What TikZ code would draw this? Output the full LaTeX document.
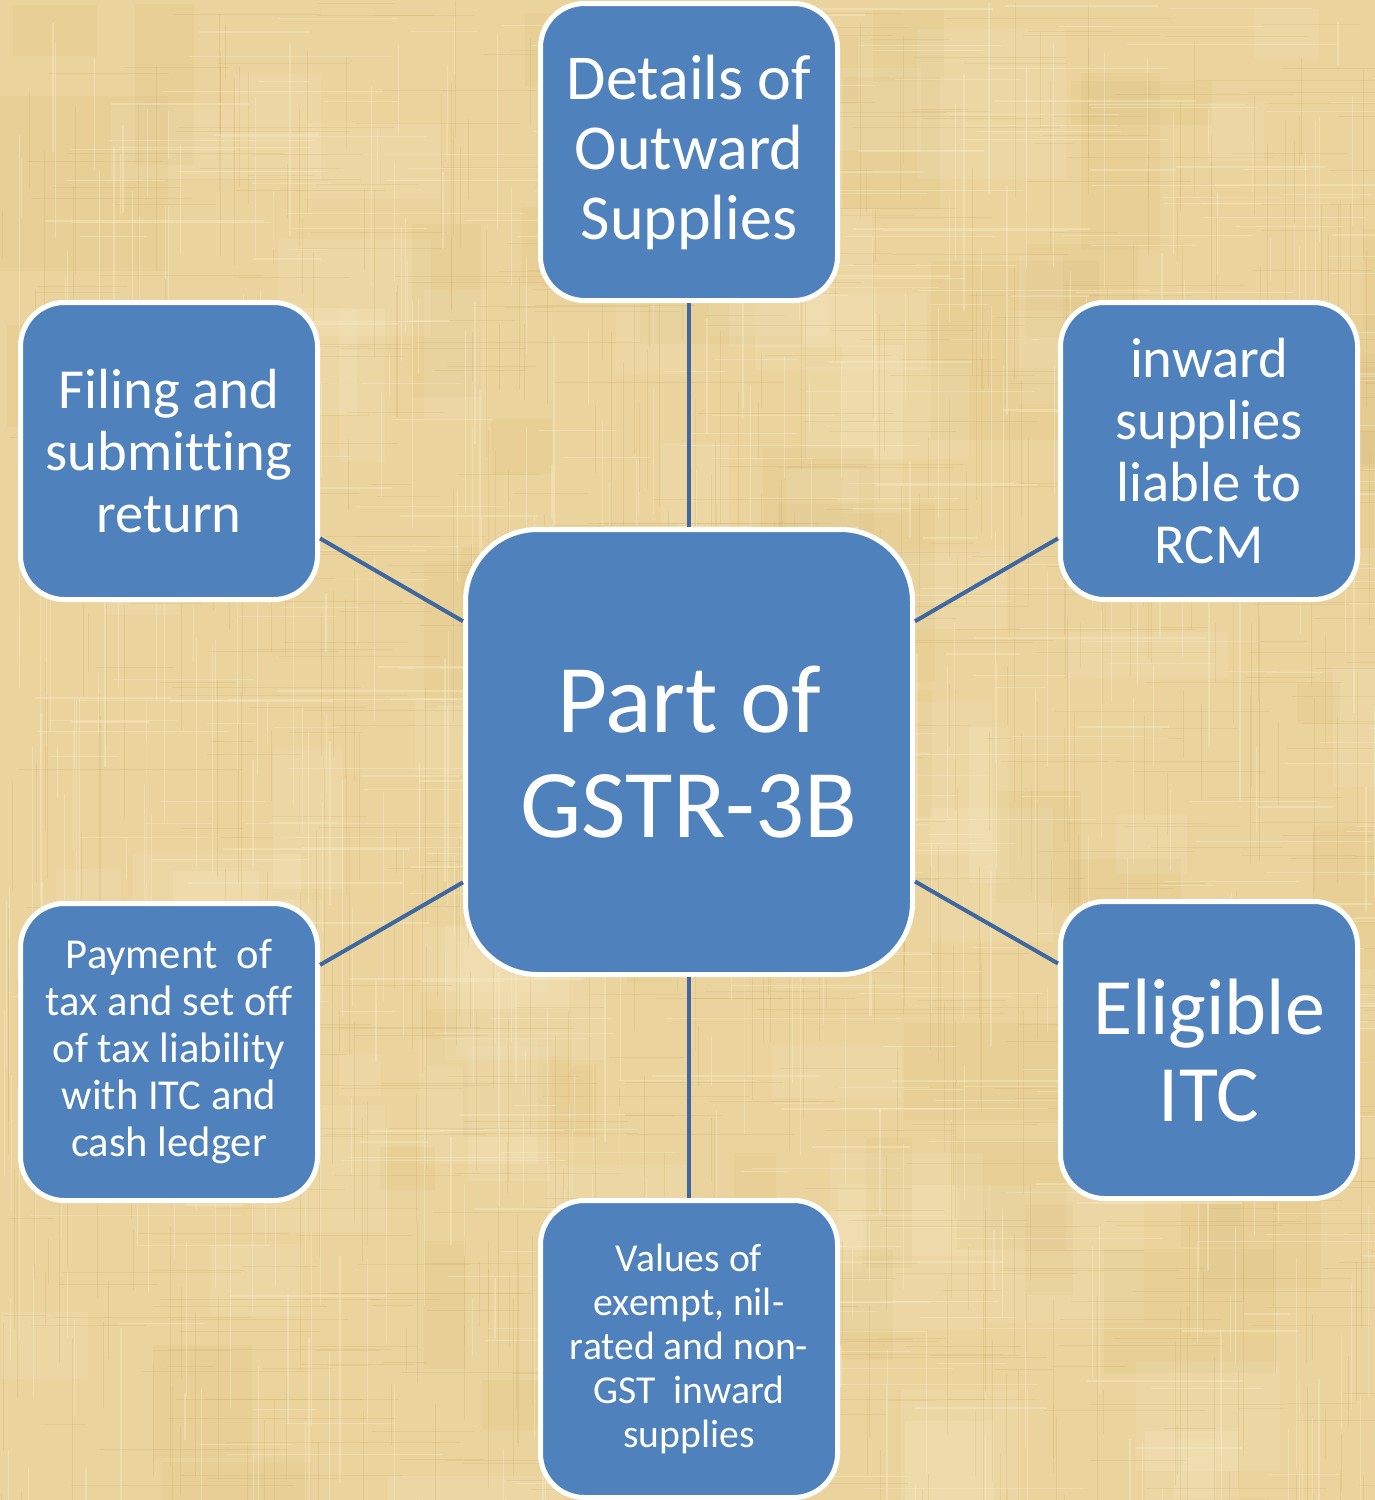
\documentclass[tikz,border=0pt]{standalone}
\usepackage{fontspec}
\setmainfont{Carlito}[Ligatures=NoCommon]
\definecolor{boxblue}{HTML}{4F81BD}
\definecolor{linkblue}{HTML}{3F68A0}
\definecolor{paper}{HTML}{EAD39C}
\definecolor{paperlight}{HTML}{F7EAC4}
\definecolor{paperdark}{HTML}{C4A25C}
\begin{document}
\begin{tikzpicture}[x=0.5pt,y=-0.5pt,
  topic/.style={draw=white, line width=2.5pt, fill=boxblue, text=white,
    rounded corners=22pt, minimum width=148.5pt, minimum height=148.5pt,
    align=center, inner sep=0pt},
  hub/.style={topic, rounded corners=36pt, minimum width=223.5pt, minimum height=222.5pt},
  link/.style={draw=linkblue, line width=2pt}]

% woven paper background
\fill[paper] (0,0) rectangle (1375,1500);
\useasboundingbox (0,0) rectangle (1375,1500);
\pgfmathsetseed{11}
\foreach \i in {1,...,60}{
  \pgfmathsetmacro\bx{rnd*1375}\pgfmathsetmacro\by{rnd*1500}
  \pgfmathsetmacro\bw{40+rnd*140}\pgfmathsetmacro\bh{40+rnd*140}
  \fill[paperlight, opacity=0.2] (\bx,\by) rectangle ++(\bw,\bh);
}
\foreach \i in {1,...,60}{
  \pgfmathsetmacro\bx{rnd*1375}\pgfmathsetmacro\by{rnd*1500}
  \pgfmathsetmacro\bw{40+rnd*140}\pgfmathsetmacro\bh{40+rnd*140}
  \fill[paperdark, opacity=0.08] (\bx,\by) rectangle ++(\bw,\bh);
}
\foreach \i in {1,...,500}{
  \pgfmathsetmacro\bx{rnd*1375}\pgfmathsetmacro\by{rnd*1500}
  \pgfmathsetmacro\len{40+rnd*200}
  \draw[paperdark, opacity=0.2, line width=0.4pt] (\bx,\by) -- ++(0,\len);
  \pgfmathsetmacro\cx{rnd*1375}\pgfmathsetmacro\cy{rnd*1500}
  \pgfmathsetmacro\lenb{40+rnd*200}
  \draw[paperdark, opacity=0.2, line width=0.4pt] (\cx,\cy) -- ++(\lenb,0);
}
\foreach \i in {1,...,400}{
  \pgfmathsetmacro\bx{rnd*1375}\pgfmathsetmacro\by{rnd*1500}
  \pgfmathsetmacro\len{40+rnd*200}
  \draw[paperlight, opacity=0.45, line width=0.6pt] (\bx,\by) -- ++(0,\len);
  \pgfmathsetmacro\cx{rnd*1375}\pgfmathsetmacro\cy{rnd*1500}
  \pgfmathsetmacro\lenb{40+rnd*200}
  \draw[paperlight, opacity=0.45, line width=0.6pt] (\cx,\cy) -- ++(\lenb,0);
}

% boxes
\node[hub, font=\fontsize{48.5}{52.5}\selectfont] (hub) at (689,752) {Part of\\GSTR-3B};
\node[topic, font=\fontsize{32}{35}\selectfont] (outward) at (689,152) {Details of\\Outward\\Supplies};
\node[topic, font=\fontsize{28.3}{31}\selectfont] (filing) at (169,451) {Filing and\\submitting\\return};
\node[topic, font=\fontsize{28.3}{31}\selectfont] (rcm) at (1209,451) {inward\\supplies\\liable to\\RCM};
\node[topic, font=\fontsize{21.3}{23.5}\selectfont] (payment) at (169,1052) {Payment~ of\\tax and set off\\of tax liability\\with ITC and\\cash ledger};
\node[topic, font=\fontsize{40}{43.5}\selectfont] (itc) at (1209,1050) {Eligible\\ITC};
\node[topic, font=\fontsize{19.8}{22}\selectfont] (values) at (689,1349) {Values of\\exempt, nil-\\rated and non-\\GST~ inward\\supplies};

% connectors
\draw[link] (hub) -- (outward);
\draw[link] (hub) -- (filing);
\draw[link] (hub) -- (rcm);
\draw[link] (hub) -- (payment);
\draw[link] (hub) -- (itc);
\draw[link] (hub) -- (values);
\end{tikzpicture}
\end{document}
